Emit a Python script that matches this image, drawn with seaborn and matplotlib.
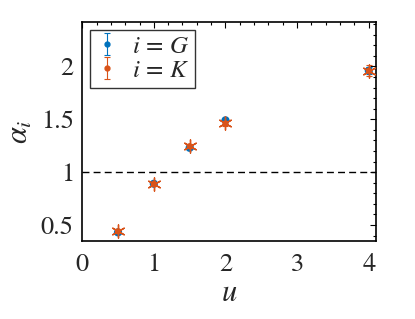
import numpy as np
import pandas as pd
import matplotlib
matplotlib.use("Agg")
import matplotlib.pyplot as plt
import seaborn as sb
from matplotlib.ticker import MultipleLocator
from matplotlib.container import ErrorbarContainer
from matplotlib.legend_handler import HandlerErrorbar

# DATA
# -----------------------------
u_vals = [0.5, 1.0, 1.5, 2.0, 4.0]
alpha_G = [0.43, 0.89, 1.23, 1.49, 1.96]
err_G = [0.015, 0.015, 0.015, 0.015, 0.03]
alpha_K = [0.44, 0.89, 1.245, 1.46, 1.96]
err_K = [0.02, 0.02, 0.02, 0.02, 0.05]

BLUE = "#0072BD"
ORANGE = "#D95319"

sb.set_theme(style="white")
plt.rcParams["font.family"] = ["STIXGeneral", "DejaVu Serif"]
plt.rcParams["mathtext.fontset"] = "stix"

df = pd.DataFrame({"u": u_vals + u_vals,
                   "alpha": alpha_G + alpha_K,
                   "err": err_G + err_K,
                   "i": ["G"] * 5 + ["K"] * 5})

fig, ax = plt.subplots(figsize=(4.15, 3.19), dpi=100)
fig.subplots_adjust(left=0.198, right=0.906, top=0.931, bottom=0.245)

ax.axhline(1, color="black", ls=(0, (5, 3)), lw=1.0, zorder=1)

# G: filled dots with error bars
g = df[df["i"] == "G"]
ax.errorbar(g["u"], g["alpha"], yerr=g["err"], fmt="none", ecolor=BLUE,
            elinewidth=0.8, capsize=2.5, capthick=0.8, zorder=2)
sb.scatterplot(data=g, x="u", y="alpha", color=BLUE, s=35, edgecolor="none",
               ax=ax, zorder=3, legend=False)

# K: dots plus asterisks with error bars
k = df[df["i"] == "K"]
ax.errorbar(k["u"], k["alpha"], yerr=k["err"], fmt="none", ecolor=ORANGE,
            elinewidth=0.8, capsize=2.5, capthick=0.8, zorder=4)
sb.scatterplot(data=k, x="u", y="alpha", color=ORANGE, s=20, edgecolor="none",
               ax=ax, zorder=5, legend=False)
sb.scatterplot(data=k, x="u", y="alpha", color=ORANGE, marker=(6, 2, 0), s=90,
               linewidth=1.0, ax=ax, zorder=5, legend=False)

# legend handles (drawn off-screen so caps show in the legend)
hG = ax.errorbar([-5], [-5], yerr=[1], fmt="o", ms=3.5, color=BLUE,
                 elinewidth=0.8, capsize=2.5, capthick=0.8)
hK = ax.errorbar([-5], [-5], yerr=[1], fmt="o", ms=3.5, color=ORANGE,
                 elinewidth=0.8, capsize=2.5, capthick=0.8)
leg = ax.legend([hG, hK], [r"$i \,=\, G$", r"$i \,=\, K$"], loc="upper left",
                fontsize=18, frameon=True, fancybox=False, edgecolor="black",
                borderpad=0.2, handlelength=1.0, handletextpad=0.5,
                labelspacing=0.0, borderaxespad=0.3,
                handler_map={ErrorbarContainer: HandlerErrorbar(yerr_size=0.45)})
leg.get_frame().set_linewidth(1.0)

ax.set_xlim(0, 4.1)
ax.set_ylim(0.35, 2.42)
ax.set_xticks([0, 1, 2, 3, 4])
ax.set_yticks([0.5, 1, 1.5, 2])
ax.set_yticklabels(["0.5", "1", "1.5", "2"])
ax.xaxis.set_minor_locator(MultipleLocator(0.2))
ax.yaxis.set_minor_locator(MultipleLocator(0.1))
ax.tick_params(which="both", direction="in", top=True, right=True,
               labelsize=19, color="black", width=0.8)
ax.tick_params(which="major", length=4)
ax.tick_params(axis="x", which="major", pad=9)
ax.tick_params(axis="y", which="major", pad=6)
ax.tick_params(which="minor", length=2)
for s in ax.spines.values():
    s.set_color("black")
    s.set_linewidth(1.2)

ax.set_xlabel("$u$", fontsize=22, labelpad=2)
ax.set_ylabel(r"$\alpha_i$", fontsize=22, labelpad=4)

fig.savefig("out.png", dpi=100)
